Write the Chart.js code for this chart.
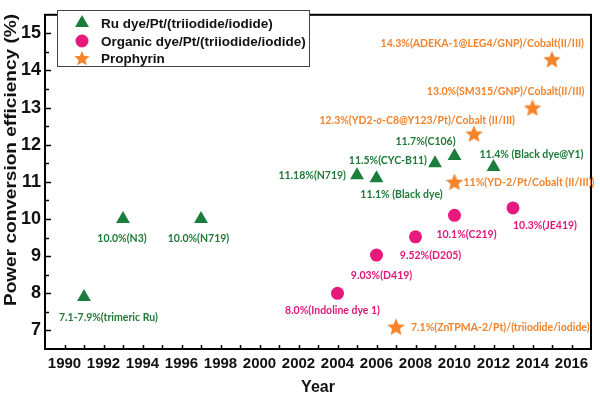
<!DOCTYPE html>
<html>
<head>
<meta charset="utf-8">
<script src="https://cdn.jsdelivr.net/npm/chart.js@4"></script>
<style>
  html, body { margin: 0; padding: 0; background: #fff; }
  #c { display: block; }
</style>
</head>
<body>
<canvas id="c" width="600" height="396"></canvas>
<script>
// ---------- DATA ----------
const ruYears = [1991, 1993, 1997, 2005, 2006, 2009, 2010, 2012];
const ruEff   = [7.9, 10.0, 10.0, 11.18, 11.1, 11.5, 11.7, 11.4];
const ruLabels = [
  "7.1-7.9%(trimeric Ru)", "10.0%(N3)", "10.0%(N719)", "11.18%(N719)",
  "11.1% (Black dye)", "11.5%(CYC-B11)", "11.7%(C106)", "11.4% (Black dye@Y1)"
];

const orgYears = [2004, 2006, 2008, 2010, 2013];
const orgEff   = [8.0, 9.03, 9.52, 10.1, 10.3];
const orgLabels = [
  "8.0%(Indoline dye 1)", "9.03%(D419)", "9.52%(D205)", "10.1%(C219)", "10.3%(JE419)"
];

const porYears = [2007, 2010, 2011, 2014, 2015];
const porEff   = [7.1, 11.0, 12.3, 13.0, 14.3];
const porLabels = [
  "7.1%(ZnTPMA-2/Pt)/(triiodide/iodide)", "11%(YD-2/Pt/Cobalt (II/III))",
  "12.3%(YD2-*o*-C8@Y123/Pt)/Cobalt (II/III)", "13.0%(SM315/GNP)/Cobalt(II/III)",
  "14.3%(ADEKA-1@LEG4/GNP)/Cobalt(II/III)"
];

const seriesNames = ["Ru dye/Pt/(triiodide/iodide)", "Organic dye/Pt/(triiodide/iodide)", "Prophyrin"];
const xTicks = [1990, 1992, 1994, 1996, 1998, 2000, 2002, 2004, 2006, 2008, 2010, 2012, 2014, 2016];
const yTicks = [7, 8, 9, 10, 11, 12, 13, 14, 15];

// ---------- STYLE / LABEL PLACEMENT (pixels, separate from data) ----------
const GREEN = '#1b7d3b', PINK = '#e8197c', ORANGE = '#f5842a';
const GREEN_T = '#1f7a38', PINK_T = '#e0177a', ORANGE_T = '#f0832c';
const ruOff  = [[-25,21,'left'],[-1,20,'center'],[-2.5,20,'center'],[-11,0,'right'],[25,16,'center'],[-8,-3,'right'],[-29,-14,'center'],[38,-12,'center']];
const orgOff = [[-5,17,'center'],[5,21,'center'],[15,19,'center'],[12,19,'center'],[32,18,'center']];
const porOff = [[15,1,'left'],[9,1,'left'],[41,-13,'right'],[52,-16,'right'],[32,-16,'right']];
const LABEL_SIZE = 10.5;

function starPath(ctx, cx, cy, R, r) {
  ctx.beginPath();
  for (let i = 0; i < 10; i++) {
    const rad = i % 2 === 0 ? R : r;
    const a = -Math.PI / 2 + i * Math.PI / 5;
    const px = cx + rad * Math.cos(a), py = cy + rad * Math.sin(a);
    if (i === 0) ctx.moveTo(px, py); else ctx.lineTo(px, py);
  }
  ctx.closePath();
}
function makeStar(size, R, r) {
  const cv = document.createElement('canvas');
  cv.width = size; cv.height = size;
  const g = cv.getContext('2d');
  g.fillStyle = ORANGE;
  starPath(g, size / 2, size / 2 + 0.8, R, r);
  g.fill();
  return cv;
}
const starImg = makeStar(20, 9.2, 4.2);

function toPts(xs, ys) { return xs.map((x, i) => ({ x: x, y: ys[i] })); }

const datasets = [
  { label: seriesNames[0], data: toPts(ruYears, ruEff), pointStyle: 'triangle', pointRadius: 8,
    backgroundColor: GREEN, borderColor: GREEN, borderWidth: 0, _labels: ruLabels, _off: ruOff, _tc: GREEN_T },
  { label: seriesNames[1], data: toPts(orgYears, orgEff), pointStyle: 'circle', pointRadius: 6.5,
    backgroundColor: PINK, borderColor: PINK, borderWidth: 0, _labels: orgLabels, _off: orgOff, _tc: PINK_T },
  { label: seriesNames[2], data: toPts(porYears, porEff), pointStyle: starImg, pointRadius: 9,
    backgroundColor: ORANGE, borderColor: ORANGE, borderWidth: 0, _labels: porLabels, _off: porOff, _tc: ORANGE_T }
];

function drawRichText(ctx, text, x, y, align) {
  const parts = text.split('*');
  const fonts = parts.map((p, i) => (i % 2 === 1 ? "italic bold " : "bold ") + LABEL_SIZE + "px Lato");
  let total = 0;
  const widths = parts.map((p, i) => { ctx.font = fonts[i]; const w = ctx.measureText(p).width; total += w; return w; });
  let sx = align === 'left' ? x : (align === 'right' ? x - total : x - total / 2);
  ctx.textAlign = 'left';
  parts.forEach((p, i) => { ctx.font = fonts[i]; ctx.fillText(p, sx, y); sx += widths[i]; });
}

const decorPlugin = {
  id: 'decor',
  afterDraw(chart) {
    const ctx = chart.ctx;
    const ca = chart.chartArea;
    const xs = chart.scales.x, ys = chart.scales.y;
    ctx.save();
    // inward ticks
    ctx.strokeStyle = '#000'; ctx.lineWidth = 1.5;
    for (let yr = 1990; yr <= 2016; yr++) {
      const px = Math.round(xs.getPixelForValue(yr)) + 0.5;
      ctx.beginPath(); ctx.moveTo(px, ca.bottom); ctx.lineTo(px, ca.bottom - 4); ctx.stroke();
    }
    for (let v = 7; v <= 15; v += 0.5) {
      const py = Math.round(ys.getPixelForValue(v)) + 0.5;
      const len = Number.isInteger(v) ? 6 : 4;
      ctx.beginPath(); ctx.moveTo(ca.left, py); ctx.lineTo(ca.left + len, py); ctx.stroke();
    }
    // frame
    ctx.lineWidth = 2;
    ctx.strokeRect(ca.left, ca.top, ca.right - ca.left, ca.bottom - ca.top);

    // y title (slightly stretched along its length, as in the reference)
    ctx.save();
    ctx.translate(11, 160);
    ctx.rotate(-Math.PI / 2);
    ctx.scale(1.12, 1);
    ctx.font = "bold 17px 'Liberation Sans'";
    ctx.fillStyle = '#111';
    ctx.textAlign = 'center'; ctx.textBaseline = 'middle';
    ctx.fillText('Power conversion efficiency (%)', 0, 0);
    ctx.restore();

    // point labels
    ctx.textBaseline = 'middle';
    chart.data.datasets.forEach((ds, di) => {
      const meta = chart.getDatasetMeta(di);
      ctx.fillStyle = ds._tc;
      meta.data.forEach((el, i) => {
        const o = ds._off[i];
        drawRichText(ctx, ds._labels[i], el.x + o[0], el.y + o[1], o[2]);
      });
    });

    // legend
    const lx = 57, ly = 10, lw = 252, lh = 56;
    ctx.fillStyle = '#fff';
    ctx.fillRect(lx, ly, lw, lh);
    ctx.strokeStyle = '#444'; ctx.lineWidth = 1;
    ctx.strokeRect(lx + 0.5, ly + 0.5, lw, lh);
    const rows = [23, 41, 58];
    const r = 8, cx = 82;
    ctx.fillStyle = GREEN;
    ctx.beginPath();
    ctx.moveTo(cx, rows[0] - r);
    ctx.lineTo(cx + r * Math.sin(2 * Math.PI / 3), rows[0] - r * Math.cos(2 * Math.PI / 3));
    ctx.lineTo(cx + r * Math.sin(4 * Math.PI / 3), rows[0] - r * Math.cos(4 * Math.PI / 3));
    ctx.closePath(); ctx.fill();
    ctx.fillStyle = PINK;
    ctx.beginPath(); ctx.arc(cx, rows[1], 6.5, 0, Math.PI * 2); ctx.fill();
    ctx.drawImage(makeStar(18, 8, 3.6), cx - 9, rows[2] - 9);
    ctx.fillStyle = '#111';
    ctx.font = "bold 13.5px 'Liberation Sans'";
    ctx.textAlign = 'left'; ctx.textBaseline = 'middle';
    seriesNames.forEach((n, i) => ctx.fillText(n, 101, rows[i] + 1));
    ctx.restore();
  }
};

new Chart(document.getElementById('c'), {
  type: 'scatter',
  data: { datasets: datasets },
  options: {
    responsive: false,
    animation: false,
    devicePixelRatio: 1,
    layout: { padding: { top: 3, right: 3, left: 0, bottom: 0 } },
    plugins: { legend: { display: false }, tooltip: { enabled: false } },
    scales: {
      x: {
        type: 'linear', min: 1989, max: 2017,
        afterBuildTicks: s => { s.ticks = xTicks.map(v => ({ value: v })); },
        afterFit: s => { s.height = 47; },
        grid: { display: false, drawTicks: false },
        border: { display: false },
        ticks: { autoSkip: false, maxRotation: 0, padding: 6, color: '#111',
                 font: { family: "'Liberation Sans'", weight: 'bold', size: 15 },
                 callback: v => String(v) },
        title: { display: true, text: 'Year', color: '#111', padding: { top: 0, bottom: 0 },
                 font: { family: "'Liberation Sans'", weight: 'bold', size: 16, lineHeight: 1 } }
      },
      y: {
        type: 'linear', min: 6.5, max: 15.5,
        afterBuildTicks: s => { s.ticks = yTicks.map(v => ({ value: v })); },
        afterFit: s => { s.width = 45; },
        grid: { display: false, drawTicks: false },
        border: { display: false },
        ticks: { padding: 4, color: '#111',
                 font: { family: "'Liberation Sans'", weight: 'bold', size: 18 },
                 callback: v => String(v) }
      }
    }
  },
  plugins: [decorPlugin]
});
</script>
</body>
</html>
